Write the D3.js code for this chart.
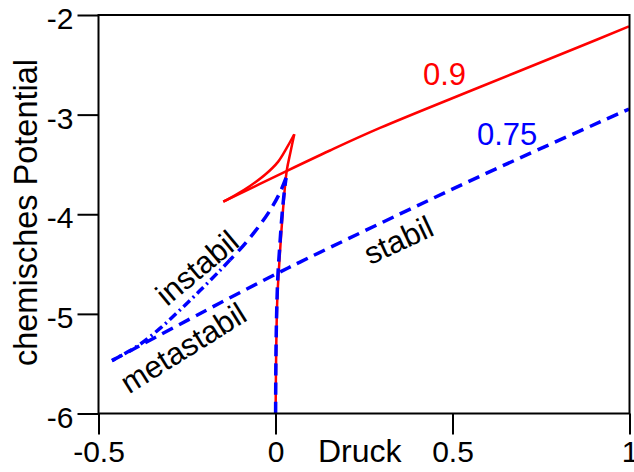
<!DOCTYPE html>
<html>
<head>
<meta charset="utf-8">
<script src="https://cdn.jsdelivr.net/npm/d3@7"></script>
<style>
  body { margin: 0; background: #fff; }
  text { font-family: "Liberation Sans", Arial, sans-serif; }
</style>
</head>
<body>
<script>
// tick values
var xTicks = [-0.5, 0, 0.5, 1];
var yTicks = [-6, -5, -4, -3, -2];

// T = 0.9 (red), [Druck, Potential]
var redGas = [[0.0003,-6.0],[0.002,-5.363],[0.005,-4.861],[0.0113,-4.459],[0.0212,-3.957],[0.0316,-3.566],[0.0424,-3.375],[0.0531,-3.197]];
var redUnstable = [[0.0531,-3.197],[0.0325,-3.329],[0.0071,-3.474],[-0.0297,-3.604],[-0.072,-3.716],[-0.1144,-3.81],[-0.1475,-3.874]];
var redLiquid = [[-0.1475,-3.874],[0.0325,-3.564],[0.154,-3.36],[0.2952,-3.134],[0.5777,-2.723],[0.8602,-2.316],[0.9986,-2.115]];

// T = 0.75 (blue)
var blueGas = [[0.0003,-6.0],[0.0014,-5.363],[0.0042,-4.861],[0.0071,-4.59],[0.0113,-4.359],[0.0184,-4.008],[0.0254,-3.757],[0.0297,-3.636]];
var blueUnstableTop = [[0.0297,-3.636],[0.0127,-3.781],[-0.0155,-3.961],[-0.0579,-4.172],[-0.1003,-4.353],[-0.1285,-4.458]];
var blueUnstable = [[-0.1285,-4.458],[-0.1568,-4.564],[-0.2133,-4.766],[-0.2698,-4.961],[-0.3263,-5.146],[-0.3828,-5.306],[-0.4251,-5.397],[-0.4619,-5.469]];
var blueLiquid = [[-0.4619,-5.469],[-0.1568,-4.891],[0.0071,-4.59],[0.0692,-4.48],[0.3517,-3.997],[0.6342,-3.526],[0.9986,-2.944]];

var width = 634, height = 472;
var margin = {left: 98.5, right: 629.5, top: 15, bottom: 413.5};

var svg = d3.select("body").append("svg")
    .attr("width", width)
    .attr("height", height);

var x = d3.scaleLinear().domain([-0.5, 1]).range([margin.left, margin.right]);
var y = d3.scaleLinear().domain([-6, -2]).range([margin.bottom, margin.top]);

var line = d3.line()
    .x(function(d) { return x(d[0]); })
    .y(function(d) { return y(d[1]); })
    .curve(d3.curveCatmullRom);

function draw(data, color, w, dash) {
    svg.append("path")
        .datum(data)
        .attr("d", line)
        .style("fill", "none")
        .style("stroke", color)
        .style("stroke-width", w)
        .style("stroke-linejoin", "round")
        .style("stroke-dasharray", dash || null);
}

draw(redGas, "#ff0000", 2.5);
draw(redUnstable, "#ff0000", 2.5);
draw(redLiquid, "#ff0000", 2.5);

draw(blueGas, "#0000ff", 3.5, "12,7");
draw(blueUnstableTop, "#0000ff", 3.5, "12,7");
draw(blueUnstable, "#0000ff", 3.5, "9,4,2,4");
draw(blueLiquid, "#0000ff", 3.5, "12,7");

// frame
svg.append("rect")
    .attr("x", margin.left).attr("y", margin.top)
    .attr("width", margin.right - margin.left).attr("height", margin.bottom - margin.top)
    .style("fill", "none").style("stroke", "#000").style("stroke-width", 2);

var xAxis = d3.axisBottom(x).tickValues(xTicks).tickSize(21).tickPadding(7)
    .tickFormat(function(d) { return String(d); });
var yAxis = d3.axisLeft(y).tickValues(yTicks).tickSize(21).tickPadding(4)
    .tickFormat(function(d) { return String(d); });

var gx = svg.append("g").attr("transform", "translate(0," + margin.bottom + ")").call(xAxis);
var gy = svg.append("g").attr("transform", "translate(" + margin.left + ",0)").call(yAxis);

[gx, gy].forEach(function(g) {
    g.select(".domain").remove();
    g.selectAll(".tick line").style("stroke", "#000").style("stroke-width", 2);
    g.selectAll("text")
        .style("font-size", "30px")
        .style("fill", "#000")
        .style("font-family", "'Liberation Sans', Arial, sans-serif");
});
gy.selectAll("text").attr("dy", "0.45em");
gx.selectAll("text").attr("dy", "0.68em");

svg.append("text")
    .attr("x", 318).attr("y", 462)
    .style("font-size", "32px")
    .text("Druck");

svg.append("text")
    .attr("transform", "translate(37,212.5) rotate(-90)")
    .style("text-anchor", "middle")
    .style("font-size", "32.5px")
    .text("chemisches Potential");

svg.append("text")
    .attr("x", 423).attr("y", 85)
    .style("font-size", "31px").style("fill", "#ff0000")
    .text("0.9");

svg.append("text")
    .attr("x", 477).attr("y", 145)
    .style("font-size", "31px").style("fill", "#0000ff")
    .text("0.75");

function rotLabel(t, cx, cy, ang) {
    svg.append("text")
        .attr("transform", "translate(" + cx + "," + cy + ") rotate(" + ang + ")")
        .style("text-anchor", "middle")
        .style("font-size", "31px")
        .text(t);
}
rotLabel("stabil", 403, 250, -25);
rotLabel("instabil", 204, 276, -40);
rotLabel("metastabil", 189, 357, -32);
</script>
</body>
</html>
